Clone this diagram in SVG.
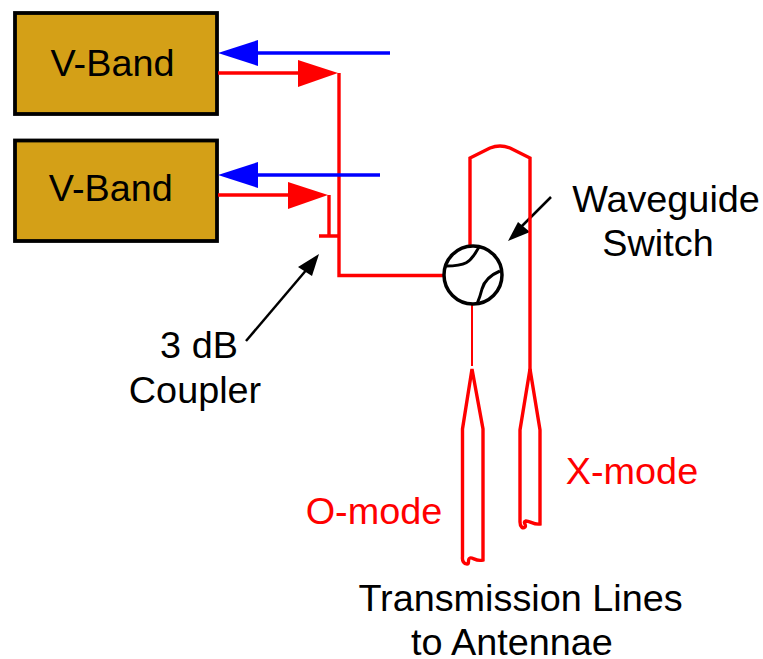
<svg xmlns="http://www.w3.org/2000/svg" width="763" height="659" viewBox="0 0 763 659">
<style>
text{font-family:"Liberation Sans",Arial,sans-serif;font-size:37.8px;text-anchor:middle}
.box{fill:#d4a017;stroke:#000;stroke-width:3.800}
.red{fill:none;stroke:#f00;stroke-width:3.400}
.blue{fill:none;stroke:#00f;stroke-width:3.400}
.rh{fill:#f00}.bh{fill:#00f}
.blk{fill:none;stroke:#000;stroke-width:3}
</style>
<rect width="763" height="659" fill="#fff"/>
<g id="vband1"><rect class="box" x="15" y="13" width="202" height="101"/><text x="112.500" y="76">V-Band</text></g>
<g id="vband2"><rect class="box" x="15" y="140.500" width="202" height="100.500"/><text x="110.800" y="201">V-Band</text></g>
<g id="connectors">
<path class="red" d="M218 73H298"/>
<polygon class="rh" points="338,73 298,60 298,87"/>
<path class="blue" d="M258 53H390"/>
<polygon class="bh" points="218,53 258,40 258,66"/>
<path class="red" d="M218 195H288"/>
<polygon class="rh" points="328,195 288,182 288,209"/>
<path class="red" d="M339 73V275.500H443"/>
<path class="blue" d="M258 175H380"/>
<polygon class="bh" points="218,175 258,162 258,188"/>
<path class="red" d="M329 195V236M319 236H339"/>
<path d="M246 341L308 268" fill="none" stroke="#000" stroke-width="2.500"/>
<polygon fill="#000" points="319,254 298,267 312,276"/>
<path d="M551 197L520 228" fill="none" stroke="#000" stroke-width="2.500"/>
<polygon fill="#000" points="508,241 518,222 530,232"/>
<path class="red" d="M470 245V158Q480 153 490 148Q500 144 510 148Q520 153 530 158V372"/>
<path d="M472 305V366" fill="none" stroke="#f00" stroke-width="2"/>
<path class="red" d="M472 369L462.500 429V557C462 561 464 564 467 564C470 564 467 559 470 558C473 557 476 562 483 560V429Z"/>
<path class="red" d="M530 369L520 430V522C520 527 523 529 525 527C527 525 522 522 526 521C530 521 534 525 540 524V430Z"/>
</g>
<g id="switch">
<circle cx="473" cy="275" r="29" fill="#fff" stroke="#000" stroke-width="3.500"/>
<path class="blk" d="M446 266C466 266 470 262 476 252Q479 247 480 246M500 271C488 276 484 282 482 289Q480 297 477 304"/>
</g>
<g id="labels">
<text x="666" y="212">Waveguide</text>
<text x="658" y="256">Switch</text>
<text x="199" y="358">3 dB</text>
<text x="195" y="403">Coupler</text>
<text x="374" y="524" fill="#f00">O-mode</text>
<text x="632" y="484" fill="#f00">X-mode</text>
<text x="520.500" y="611">Transmission Lines</text>
<text x="512" y="655">to Antennae</text>
</g>
</svg>
